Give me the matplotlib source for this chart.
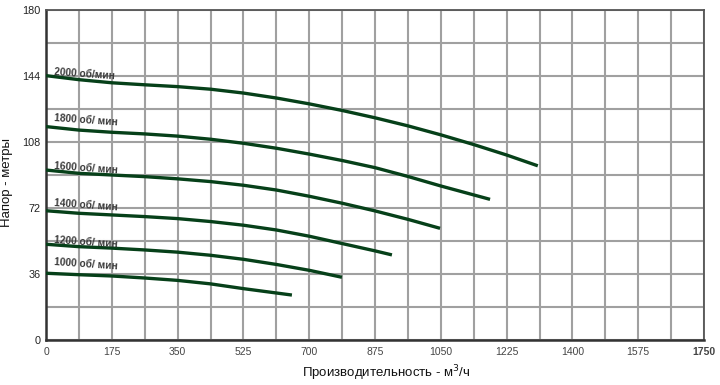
import matplotlib
matplotlib.use('Agg')
import matplotlib.pyplot as plt
import numpy as np

plt.rcParams['font.family'] = ['Liberation Sans', 'DejaVu Sans']

# Pump curves: flow (m3/h) vs head (m), one per rotation speed
SPEEDS = ['2000 об/мин', '1800 об/ мин', '1600 об/ мин', '1400 об/ мин', '1200 об/ мин', '1000 об/ мин']

Q_2000 = [0, 87.5, 175, 262.5, 350, 437.5, 525, 612.5, 700, 787.5, 875, 962.5, 1050, 1137.5, 1225, 1308]
H_2000 = [144.2, 142.0, 140.3, 139.2, 138.2, 136.8, 134.7, 132.0, 128.8, 125.2, 121.2, 116.8, 111.9, 106.6, 100.9, 95.0]

Q_1800 = [0, 87.5, 175, 262.5, 350, 437.5, 525, 612.5, 700, 787.5, 875, 962.5, 1050, 1181]
H_1800 = [116.4, 114.5, 113.3, 112.4, 111.2, 109.5, 107.3, 104.6, 101.4, 97.9, 94.0, 89.2, 84.0, 76.7]

Q_1600 = [0, 87.5, 175, 262.5, 350, 437.5, 525, 612.5, 700, 787.5, 875, 962.5, 1048]
H_1600 = [92.7, 90.9, 90.0, 89.1, 87.9, 86.4, 84.4, 81.8, 78.4, 74.6, 70.4, 65.8, 60.9]

Q_1400 = [0, 87.5, 175, 262.5, 350, 437.5, 525, 612.5, 700, 787.5, 875, 920]
H_1400 = [70.5, 69.1, 68.2, 67.3, 66.2, 64.6, 62.6, 60.0, 56.6, 52.6, 48.6, 46.4]

Q_1200 = [0, 87.5, 175, 262.5, 350, 437.5, 525, 612.5, 700, 787]
H_1200 = [52.2, 50.9, 50.1, 49.1, 47.9, 46.2, 44.0, 41.2, 38.0, 34.2]

Q_1000 = [0, 87.5, 175, 262.5, 350, 437.5, 525, 654]
H_1000 = [36.4, 35.6, 34.9, 33.8, 32.5, 30.6, 28.0, 24.5]

CURVES = [(Q_2000, H_2000), (Q_1800, H_1800), (Q_1600, H_1600),
          (Q_1400, H_1400), (Q_1200, H_1200), (Q_1000, H_1000)]

# label anchor (flow, head) for each speed
LABEL_Q = [22, 22, 22, 22, 22, 22]
LABEL_H = [146.2, 121.2, 95.0, 74.8, 54.4, 42.3]

X_TICKS = np.arange(0, 1751, 175)
Y_TICKS = np.arange(0, 181, 36)

LINE_COLOR = '#064019'
GRID_COLOR = '#a0a0a0'

fig = plt.figure(figsize=(7.2, 3.85), dpi=100)
ax = fig.add_axes([0.0639, 0.117, 0.9139, 0.857])

for (q, h) in CURVES:
    ax.plot(q, h, color=LINE_COLOR, linewidth=2.4, solid_capstyle='butt',
            solid_joinstyle='round', zorder=3)

for name, lq, lh in zip(SPEEDS, LABEL_Q, LABEL_H):
    ax.text(lq, lh, name, fontsize=7.3, color='#3a3a3a', fontweight='bold',
            ha='left', va='center', rotation=-4, rotation_mode='anchor', zorder=4)

ax.set_xlim(0, 1750)
ax.set_ylim(0, 180)
ax.set_xticks(X_TICKS)
ax.set_yticks(Y_TICKS)
ax.set_xticks(np.arange(0, 1751, 87.5), minor=True)
ax.set_yticks(np.arange(0, 181, 18), minor=True)
ax.grid(True, which='both', color=GRID_COLOR, linewidth=1.5)
ax.tick_params(which='both', length=0)
ax.tick_params(axis='x', labelsize=7.5, colors='#444444', pad=5)
ax.tick_params(axis='y', labelsize=7.8, colors='#222222', pad=4)
ax.get_xticklabels()[-1].set_fontweight('bold')

for side in ['top', 'right']:
    ax.spines[side].set_color('#555555')
    ax.spines[side].set_linewidth(1.3)
for side in ['left', 'bottom']:
    ax.spines[side].set_color('#333333')
    ax.spines[side].set_linewidth(1.8)

ax.set_xlabel('Производительность - м$^3$/ч', fontsize=9.5, color='#111111')
ax.set_ylabel('Напор - метры', fontsize=9.5, color='#111111')
ax.xaxis.set_label_coords(0.517, -0.072)
ax.yaxis.set_label_coords(-0.05, 0.477)

fig.savefig('out.png', dpi=100)
